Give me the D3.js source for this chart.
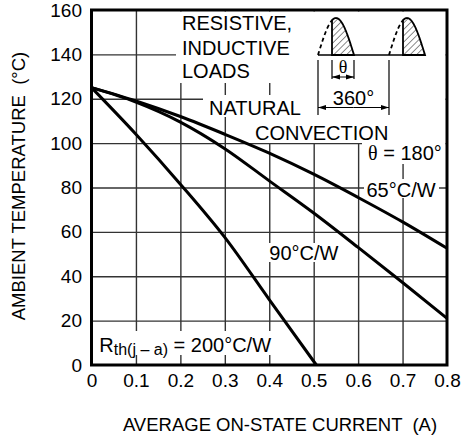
<!DOCTYPE html>
<html>
<head>
<meta charset="utf-8">
<script src="https://cdn.jsdelivr.net/npm/d3@7"></script>
<style>
body { margin: 0; background: #fff; }
text { font-family: "Liberation Sans", Arial, sans-serif; fill: #000; white-space: pre; }
.grid line { stroke: #333; stroke-width: 1.4; }
.grid path { display: none; }
.ticks path, .ticks line { display: none; }
.ticks text { font-size: 19px; }
</style>
</head>
<body>
<div id="chart"></div>
<script>
// values
var currents = [0, 0.1, 0.2, 0.3, 0.4, 0.5, 0.6, 0.7, 0.8];
var temp65 = [125, 119, 112, 104, 95.5, 86, 75.5, 64.5, 52.6];
var temp90 = [125, 118.5, 109.5, 97.5, 83, 68.5, 53, 37.2, 21];
var currents200 = [0, 0.1, 0.2, 0.3, 0.4, 0.506];
var temp200 = [125, 104, 81.5, 57.5, 29.5, 0];

var xTicks = [0, 0.1, 0.2, 0.3, 0.4, 0.5, 0.6, 0.7, 0.8];
var yTicks = [0, 20, 40, 60, 80, 100, 120, 140, 160];

var margin = {top: 10, right: 15, bottom: 76, left: 91.5},
    width = 462 - margin.left - margin.right,
    height = 441 - margin.top - margin.bottom;

var svg = d3.select("#chart")
    .append("svg")
    .attr("width", 462)
    .attr("height", 441);

var x = d3.scaleLinear().domain([0, 0.8]).range([0, width]);
var y = d3.scaleLinear().domain([0, 160]).range([height, 0]);

var defs = svg.append("defs");
defs.append("pattern")
    .attr("id", "hatch")
    .attr("patternUnits", "userSpaceOnUse")
    .attr("width", 4.5).attr("height", 4.5)
    .attr("patternTransform", "rotate(45)")
    .append("line")
    .attr("x1", 0).attr("y1", 0).attr("x2", 0).attr("y2", 4.5)
    .attr("stroke", "#000").attr("stroke-width", 0.9);
defs.append("marker")
    .attr("id", "arrow")
    .attr("viewBox", "0 0 8 6")
    .attr("refX", 8).attr("refY", 3)
    .attr("markerWidth", 8).attr("markerHeight", 6)
    .attr("markerUnits", "userSpaceOnUse")
    .attr("orient", "auto-start-reverse")
    .append("path")
    .attr("d", "M0,0.5 L8,3 L0,5.5 z")
    .attr("fill", "#000");

var g = svg.append("g").attr("transform", "translate(" + margin.left + "," + margin.top + ")");

// grid
g.append("g")
    .attr("class", "grid")
    .attr("transform", "translate(0," + height + ")")
    .call(d3.axisBottom(x).tickValues(xTicks.slice(1, -1)).tickSize(-height).tickFormat(""));
g.append("g")
    .attr("class", "grid")
    .call(d3.axisLeft(y).tickValues(yTicks.slice(1, -1)).tickSize(-width).tickFormat(""));

// white boxes behind the labels (x0, x1, y0, y1 in plot pixels)
var masks = [
  [84.5, 213.5, 1.5, 73],
  [213.5, 354, 1.5, 108],
  [111.5, 213.5, 85, 107],
  [157.5, 300.5, 107, 133],
  [270.5, 354, 107, 154],
  [272.5, 347.5, 169, 188],
  [175.5, 250.5, 233, 252],
  [5.5, 184.5, 321, 345]
];
g.append("g").selectAll("rect")
  .data(masks)
  .join("rect")
    .attr("x", function(d) { return d[0]; })
    .attr("y", function(d) { return d[2]; })
    .attr("width", function(d) { return d[1] - d[0]; })
    .attr("height", function(d) { return d[3] - d[2]; })
    .attr("fill", "#fff");

// curves
var line = d3.line()
    .x(function(d) { return x(d[0]); })
    .y(function(d) { return y(d[1]); })
    .curve(d3.curveMonotoneX);

var series = [
  d3.zip(currents, temp65),
  d3.zip(currents, temp90),
  d3.zip(currents200, temp200)
];
g.append("g").selectAll("path")
  .data(series)
  .join("path")
    .attr("d", line)
    .attr("fill", "none")
    .attr("stroke", "#000")
    .attr("stroke-width", 3);

// frame
g.append("rect")
    .attr("width", width)
    .attr("height", height)
    .attr("fill", "none")
    .attr("stroke", "#000")
    .attr("stroke-width", 3);

// tick labels
g.append("g")
    .attr("class", "ticks")
    .attr("transform", "translate(0," + height + ")")
    .call(d3.axisBottom(x).tickValues(xTicks).tickSize(0).tickPadding(9)
      .tickFormat(function(d) { return d === 0 ? "0" : d3.format(".1f")(d); }));
g.append("g")
    .attr("class", "ticks")
    .call(d3.axisLeft(y).tickValues(yTicks).tickSize(0).tickPadding(9.5));
svg.selectAll(".ticks text").attr("fill", "#000");

// axis titles
svg.append("text")
    .attr("x", 280)
    .attr("y", 431)
    .attr("text-anchor", "middle")
    .style("font-size", "18.5px")
    .text("AVERAGE ON-STATE CURRENT  (A)");
svg.append("text")
    .attr("transform", "translate(24.5,186) rotate(-90)")
    .attr("text-anchor", "middle")
    .style("font-size", "18.5px")
    .text("AMBIENT TEMPERATURE  (°C)");

// annotations
var notes = [
  ["RESISTIVE,", 90.5, 19.5],
  ["INDUCTIVE", 90.5, 44.5],
  ["LOADS", 90.5, 68],
  ["NATURAL", 117.5, 105],
  ["CONVECTION", 163.5, 130],
  ["65°C/W", 275, 186.7],
  ["90°C/W", 177.8, 250]
];
g.append("g").selectAll("text")
  .data(notes)
  .join("text")
    .attr("x", function(d) { return d[1]; })
    .attr("y", function(d) { return d[2]; })
    .style("font-size", "20px")
    .text(function(d) { return d[0]; });

var theta = g.append("text").attr("x", 276.5).attr("y", 150).style("font-size", "20px");
theta.append("tspan").style("font-family", "'Liberation Serif', serif").text("θ");
theta.append("tspan").text(" = 180°");

var rth = g.append("text").attr("x", 7.8).attr("y", 341.7).style("font-size", "20px");
rth.append("tspan").text("R");
rth.append("tspan").attr("dy", 3).style("font-size", "16px").text("th(j – a)");
rth.append("tspan").attr("dy", -3).text(" = 200°C/W");

// waveform sketch
var base = 45, humpW = 36, humpH = 37, cut = 14;
function hump(x0, from, to) {
  return d3.range(from, to + 0.01, 0.5).map(function(t) {
    return [x0 + t, base - humpH * Math.sin(Math.PI * t / humpW)];
  });
}
var wave = g.append("g").attr("fill", "none").attr("stroke", "#000");
[226.5, 297.5].forEach(function(x0) {
  var solid = hump(x0, cut, humpW);
  wave.append("path")
      .attr("d", d3.line()([[x0 + cut, base]].concat(solid)) + "Z")
      .attr("fill", "url(#hatch)")
      .attr("stroke-width", 1.8);
  wave.append("path")
      .attr("d", d3.line()(hump(x0, 0, cut)))
      .attr("stroke-width", 1.8)
      .attr("stroke-dasharray", "4,3");
});
wave.append("line").attr("x1", 226.5).attr("x2", 333.5).attr("y1", base).attr("y2", base).attr("stroke-width", 1.5);
// dimension lines
[[240.5, 50, 69], [262.5, 50, 69], [226.5, 50, 105], [297.5, 50, 105]].forEach(function(d) {
  wave.append("line").attr("x1", d[0]).attr("x2", d[0]).attr("y1", d[1]).attr("y2", d[2]).attr("stroke-width", 1.2);
});
[[240.5, 262.5, 67], [226.5, 297.5, 97.5]].forEach(function(d) {
  var mid = (d[0] + d[1]) / 2;
  wave.append("line").attr("x1", mid).attr("x2", d[0]).attr("y1", d[2]).attr("y2", d[2])
      .attr("stroke-width", 1).attr("marker-end", "url(#arrow)");
  wave.append("line").attr("x1", mid).attr("x2", d[1]).attr("y1", d[2]).attr("y2", d[2])
      .attr("stroke-width", 1).attr("marker-end", "url(#arrow)");
});
g.append("text").attr("x", 251.5).attr("y", 63).attr("text-anchor", "middle")
    .style("font-size", "18px").style("font-family", "'Liberation Serif', serif").text("θ");
g.append("text").attr("x", 262).attr("y", 95).attr("text-anchor", "middle")
    .style("font-size", "20px").text("360°");
</script>
</body>
</html>
